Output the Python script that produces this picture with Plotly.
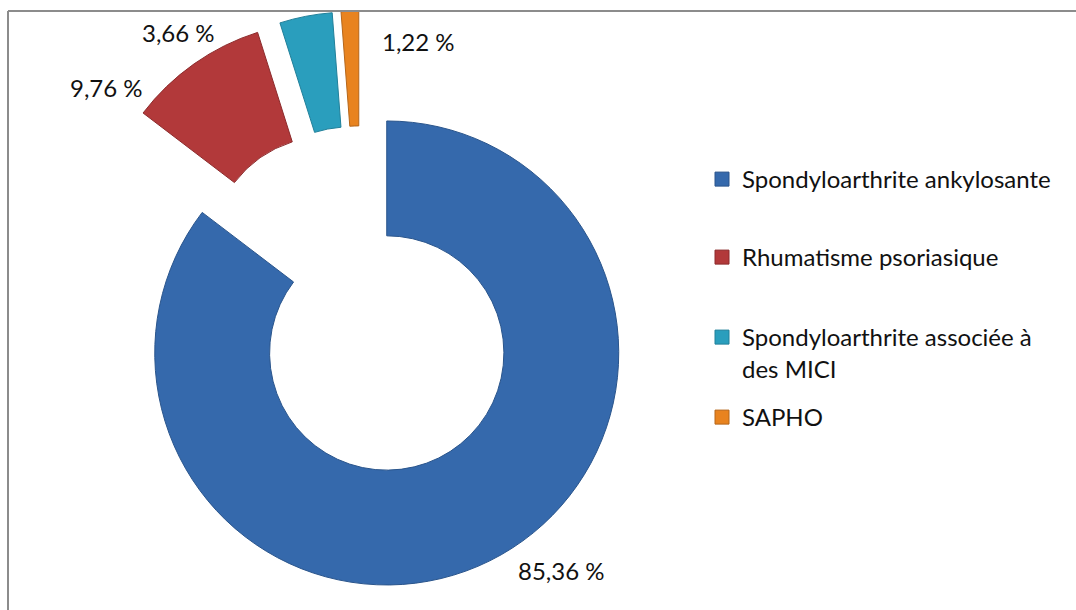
import plotly.graph_objects as go

# Data
categories = [
    "Spondyloarthrite ankylosante",
    "Rhumatisme psoriasique",
    "Spondyloarthrite associée à des MICI",
    "SAPHO",
]
legend_names = [
    "Spondyloarthrite ankylosante",
    "Rhumatisme psoriasique",
    "Spondyloarthrite associée à<br>des MICI",
    "SAPHO",
]
percentages = [85.36, 9.76, 3.66, 1.22]

# Styling
colors = ["#3569AC", "#B2393A", "#2A9EBD", "#E8831F"]
edge_colors = ["#2A558C", "#8C2B2C", "#21809A", "#B5661A"]
FONT = "Lato"
FONT_SIZE = 24
TEXT_COLOR = "#111111"

W, H = 1076, 610
OX, OY = 361, 301          # centre of the exploded donut (px)
R = 232                    # outer radius of a slice (px)
HOLE = 0.505
PULL = 0.25                # every slice is exploded by the same fraction of R

half = R * (1 + PULL)      # plotly shrinks the radius to leave room for the pull
domain = dict(
    x=[(OX - half) / W, (OX + half) / W],
    y=[max(0.0, 1 - (OY + half) / H), min(1.0, 1 - (OY - half) / H)],
)

fig = go.Figure()

fig.add_trace(go.Pie(
    labels=categories,
    values=percentages,
    hole=HOLE,
    pull=[PULL] * len(percentages),
    sort=False,
    direction="clockwise",
    rotation=0,
    textinfo="none",
    hoverinfo="label+percent",
    marker=dict(colors=colors, line=dict(color=edge_colors, width=1)),
    domain=domain,
    showlegend=False,
))

# Legend: one small legend per entry so each row sits at its own height
legend_tops = [157, 235, 315, 395]
legend_layout = {}
for i, name in enumerate(legend_names):
    key = "legend" if i == 0 else f"legend{i + 1}"
    fig.add_trace(go.Scatter(
        x=[None], y=[None], mode="markers", name=name,
        legend=key,
        marker=dict(symbol="square", size=14, color=colors[i],
                    line=dict(color=edge_colors[i], width=1)),
    ))
    legend_layout[key] = dict(
        x=702 / W, y=1 - legend_tops[i] / H, xanchor="left", yanchor="top",
        font=dict(family=FONT, size=FONT_SIZE, color=TEXT_COLOR),
        valign="top", bgcolor="rgba(0,0,0,0)",
    )

# Value labels
label_pos = [(561, 570), (106, 87), (178, 33), (418, 41)]
annotations = []
for v, (px, py) in zip(percentages, label_pos):
    annotations.append(dict(
        x=px / W, y=1 - py / H, xref="paper", yref="paper",
        xanchor="center", yanchor="middle",
        text=f"{v:.2f}".replace(".", ",") + " %",
        showarrow=False, font=dict(family=FONT, size=FONT_SIZE, color=TEXT_COLOR),
    ))

# Chart frame
frame = dict(color="#8C8C8C", width=2)
shapes = [
    dict(type="line", xref="paper", yref="paper", x0=8 / W, x1=8 / W,
         y0=0, y1=1 - 11 / H, line=frame, layer="above"),
    dict(type="line", xref="paper", yref="paper", x0=8 / W, x1=1,
         y0=1 - 11 / H, y1=1 - 11 / H, line=frame, layer="above"),
]

fig.update_layout(
    width=W, height=H,
    margin=dict(l=0, r=0, t=0, b=0),
    paper_bgcolor="white", plot_bgcolor="white",
    xaxis=dict(visible=False), yaxis=dict(visible=False),
    font=dict(family=FONT, size=FONT_SIZE, color=TEXT_COLOR),
    annotations=annotations,
    shapes=shapes,
    **legend_layout,
)

fig.write_html("out.html")
